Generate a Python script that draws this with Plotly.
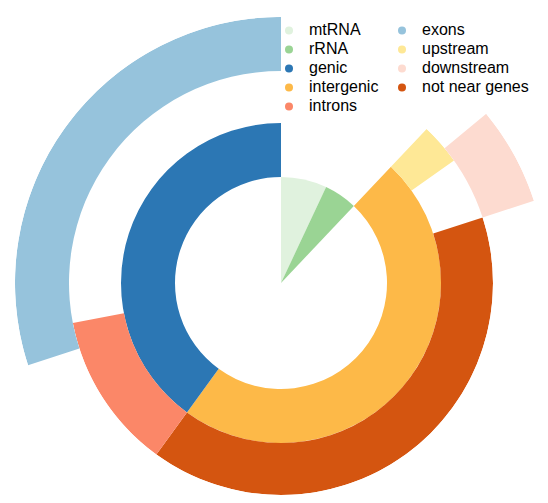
import math
import plotly.graph_objects as go

# ---- data (angular extents in degrees, clockwise from 12 o'clock) ----
inner_labels = ["mtRNA", "rRNA"]
inner_start = [0.0, 25.2]
inner_end = [25.2, 43.4]

middle_labels = ["intergenic", "genic"]
middle_start = [43.4, 216.0]
middle_end = [216.0, 360.0]

outer_labels = ["upstream", "downstream", "not near genes", "introns", "exons"]
outer_start = [43.4, 50.5, 72.0, 216.0, 252.0]
outer_end = [54.7, 72.0, 216.0, 259.1, 360.0]

# ---- styling ----
colors = {
    "mtRNA": "#e0f2de",
    "rRNA": "#9ad494",
    "genic": "#2c77b4",
    "intergenic": "#fdb948",
    "introns": "#fb8768",
    "exons": "#96c3dc",
    "upstream": "#fee896",
    "downstream": "#fddbd0",
    "not near genes": "#d45510",
}
# radial bands (inner, outer) per label
bands = {
    "mtRNA": (0, 106), "rRNA": (0, 106),
    "intergenic": (106, 160), "genic": (106, 160),
    "upstream": (160, 212), "downstream": (212, 266),
    "not near genes": (160, 212), "introns": (160, 212), "exons": (212, 266),
}
legend1_order = ["mtRNA", "rRNA", "genic", "intergenic", "introns"]
legend2_order = ["exons", "upstream", "downstream", "not near genes"]

R_IN, R_OUT = 212, 266  # radial extent of the two overlaid polar subplots

fig = go.Figure()

def add_ring(labels, starts, ends):
    for lab, s, e in zip(labels, starts, ends):
        r0, r1 = bands[lab]
        sub = "polar2" if r1 > R_IN else "polar"
        fig.add_trace(go.Barpolar(
            r=[r1 - r0], base=[r0], theta=[(s + e) / 2], width=[e - s],
            marker=dict(color=colors[lab], line=dict(width=0)),
            name=lab, legendgroup=lab, showlegend=False, subplot=sub,
            hovertemplate=lab + "<extra></extra>",
        ))

add_ring(inner_labels, inner_start, inner_end)
add_ring(middle_labels, middle_start, middle_end)
add_ring(outer_labels, outer_start, outer_end)

LEGEND_TEXT_PX = 16
for leg, order in (("legend", legend1_order), ("legend2", legend2_order)):
    for lab in order:
        fig.add_trace(go.Scatterpolar(
            r=[None], theta=[None], mode="markers",
            marker=dict(color=colors[lab], size=8, symbol="circle"),
            name=f'<span style="font-size:{LEGEND_TEXT_PX}px">{lab}</span>',
            legendgroup=lab, legend=leg, showlegend=True,
        ))

# the page body adds an 8px margin; the figure is sized to fit inside it
W, H = 532, 487
cx, cy = 273, 275

# outer subplot only spans the sector holding the long bars (screen angles, ccw from east)
sector2 = [17, 199]

def sector_bbox(a0, a1):
    pts = [(0.0, 0.0)]
    for a in [a0, a1] + [k * 90 for k in range(-4, 9) if a0 <= k * 90 <= a1]:
        pts.append((math.cos(math.radians(a)), math.sin(math.radians(a))))
    xs, ys = zip(*pts)
    return min(xs), min(ys), max(xs), max(ys)

x0, y0, x1, y1 = sector_bbox(*sector2)

axis_off = dict(visible=False, showgrid=False, showline=False,
                showticklabels=False, ticks="")

fig.update_layout(
    width=W, height=H,
    margin=dict(l=0, r=0, t=0, b=0),
    paper_bgcolor="white",
    font=dict(family="Arial, Liberation Sans, sans-serif", size=16, color="#000"),
    polar=dict(
        domain=dict(x=[(cx - R_IN) / W, (cx + R_IN) / W],
                    y=[1 - (cy + R_IN) / H, 1 - (cy - R_IN) / H]),
        bgcolor="rgba(0,0,0,0)", barmode="overlay", bargap=0,
        radialaxis=dict(range=[0, R_IN], **axis_off),
        angularaxis=dict(rotation=90, direction="clockwise", **axis_off),
    ),
    polar2=dict(
        sector=sector2,
        domain=dict(x=[(cx + R_OUT * x0) / W, (cx + R_OUT * x1) / W],
                    y=[1 - (cy - R_OUT * y0) / H, 1 - (cy - R_OUT * y1) / H]),
        bgcolor="rgba(0,0,0,0)", barmode="overlay", bargap=0,
        radialaxis=dict(range=[0, R_OUT], **axis_off),
        angularaxis=dict(rotation=90, direction="clockwise", **axis_off),
    ),
    legend=dict(x=261 / W, y=1 - 8 / H, xanchor="left", yanchor="top",
                bgcolor="rgba(0,0,0,0)", font=dict(size=12), tracegroupgap=0),
    legend2=dict(x=374 / W, y=1 - 8 / H, xanchor="left", yanchor="top",
                 bgcolor="rgba(0,0,0,0)", font=dict(size=12), tracegroupgap=0),
)

fig.write_html("out.html")
